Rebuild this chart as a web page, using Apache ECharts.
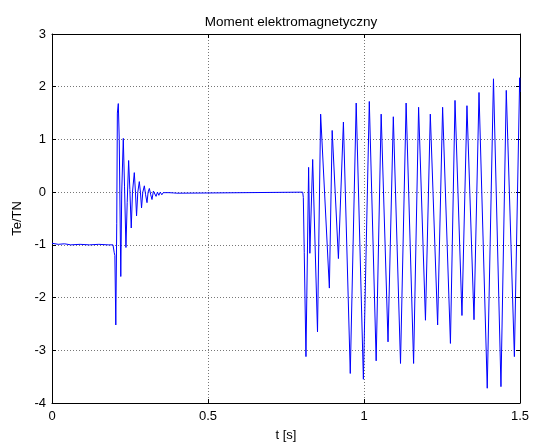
<!DOCTYPE html>
<html>
<head>
<meta charset="utf-8">
<script src="https://cdn.jsdelivr.net/npm/echarts@6/dist/echarts.min.js"></script>
<style>
html,body{margin:0;padding:0;background:#fff;}
#c{width:539px;height:443px;}
</style>
</head>
<body>
<div id="c"></div>
<script>
// time [s]
var times = [
  0, 0.02, 0.04, 0.06, 0.09, 0.12, 0.15, 0.18, 0.1955,
  0.1995, 0.2015, 0.2045, 0.2075, 0.2095, 0.2125, 0.2155, 0.2205, 0.2235, 0.2285,
  0.2325, 0.237, 0.241, 0.2456, 0.2495, 0.254, 0.258, 0.2638, 0.2675, 0.271,
  0.275, 0.2798, 0.2835, 0.287, 0.291, 0.296, 0.300, 0.3045, 0.308, 0.312,
  0.3165, 0.3205, 0.325, 0.329, 0.3335, 0.338, 0.3425, 0.347, 0.352, 0.3565,
  0.361, 0.3655, 0.37, 0.375, 0.38, 0.39, 0.40, 0.52, 0.5205,
  0.8035, 0.8055, 0.8085, 0.814, 0.8225, 0.8265, 0.8355, 0.851, 0.861, 0.889,
  0.898, 0.918, 0.934, 0.956, 0.975, 0.998, 1.017, 1.039, 1.055, 1.077,
  1.094, 1.117, 1.135, 1.159, 1.175, 1.197, 1.2125, 1.236, 1.252, 1.277,
  1.2917, 1.314, 1.33, 1.3526, 1.3686, 1.395, 1.415, 1.439, 1.456, 1.482,
  1.499, 1.5
];
// Te/TN
var torque = [
  -0.97, -0.99, -0.98, -1.0, -0.99, -1.0, -0.99, -1.0, -1.0,
  -1.15, -1.2, -2.52, -0.6, 1.5, 1.68, 1.0, -1.6, 0.0, 1.02,
  0.1, -1.05, -0.2, 0.6, 0.05, -0.68, 0.0, 0.37, 0.0, -0.45,
  0.0, 0.2, 0.0, -0.3, 0.0, 0.12, -0.05, -0.2, 0.0, 0.07,
  -0.05, -0.14, 0.02, 0.03, -0.08, 0.0, -0.06, 0.0, -0.05, -0.01,
  -0.04, -0.01, -0.03, -0.01, -0.025, -0.015, -0.02, -0.015, 0.0,
  0.0, -0.1, -1.15, -3.12, 0.47, -1.16, 0.62, -2.65, 1.48, -1.82,
  1.17, -1.26, 1.33, -3.44, 1.69, -3.55, 1.72, -3.2, 1.48, -2.84,
  1.43, -3.25, 1.69, -3.25, 1.61, -2.43, 1.48, -2.52, 1.61, -2.87,
  1.74, -2.34, 1.64, -2.42, 1.89, -3.72, 2.15, -3.69, 1.93, -3.12,
  2.17, 1.9
];
var xTicks = [0, 0.5, 1, 1.5];
var yTicks = [-4, -3, -2, -1, 0, 1, 2, 3];

var pts = times.map(function (t, i) { return [t, torque[i]]; });
var font = 'Liberation Sans, Arial, sans-serif';
var chart = echarts.init(document.getElementById('c'), null, {renderer: 'canvas'});
var tickStyle = {show: true, inside: true, length: 4, lineStyle: {color: '#000'}};
chart.setOption({
  animation: false,
  backgroundColor: '#fff',
  title: {
    text: 'Moment elektromagnetyczny', left: 286, top: 10, textAlign: 'center',
    textStyle: {fontFamily: font, fontSize: 13.5, fontWeight: 'normal', color: '#000'}
  },
  grid: {left: 52, right: 19, top: 34, bottom: 40, show: false,
    containLabel: false, outerBoundsMode: 'none'},
  xAxis: [{
    type: 'value', min: xTicks[0], max: xTicks[xTicks.length - 1], interval: 0.5,
    position: 'bottom',
    name: 't [s]', nameLocation: 'middle', nameGap: 26,
    nameTextStyle: {fontFamily: font, fontSize: 13, color: '#000'},
    axisLine: {show: true, onZero: false, lineStyle: {color: '#000'}},
    axisTick: tickStyle,
    axisLabel: {fontFamily: font, fontSize: 13, color: '#000', margin: 7,
      formatter: function (v) { return String(v); }},
    splitLine: {show: true, lineStyle: {color: '#777', type: [1, 2], width: 1}}
  }, {
    type: 'value', min: xTicks[0], max: xTicks[xTicks.length - 1], interval: 0.5,
    position: 'top',
    axisLine: {show: true, onZero: false, lineStyle: {color: '#000'}},
    axisTick: tickStyle, axisLabel: {show: false}, splitLine: {show: false}
  }],
  yAxis: [{
    type: 'value', min: yTicks[0], max: yTicks[yTicks.length - 1], interval: 1,
    position: 'left',
    name: 'Te/TN', nameLocation: 'middle', nameGap: 23, nameRotate: 90,
    nameTextStyle: {fontFamily: font, fontSize: 13, color: '#000'},
    axisLine: {show: true, onZero: false, lineStyle: {color: '#000'}},
    axisTick: tickStyle,
    axisLabel: {fontFamily: font, fontSize: 13, color: '#000', margin: 6},
    splitLine: {show: true, lineStyle: {color: '#777', type: [1, 2], width: 1}}
  }, {
    type: 'value', min: yTicks[0], max: yTicks[yTicks.length - 1], interval: 1,
    position: 'right',
    axisLine: {show: true, onZero: false, lineStyle: {color: '#000'}},
    axisTick: tickStyle, axisLabel: {show: false}, splitLine: {show: false}
  }],
  series: [{
    type: 'line', data: pts, xAxisIndex: 0, yAxisIndex: 0,
    showSymbol: false, symbol: 'none',
    lineStyle: {color: '#0000ff', width: 1},
    itemStyle: {color: '#0000ff'}
  }]
});
</script>
</body>
</html>
